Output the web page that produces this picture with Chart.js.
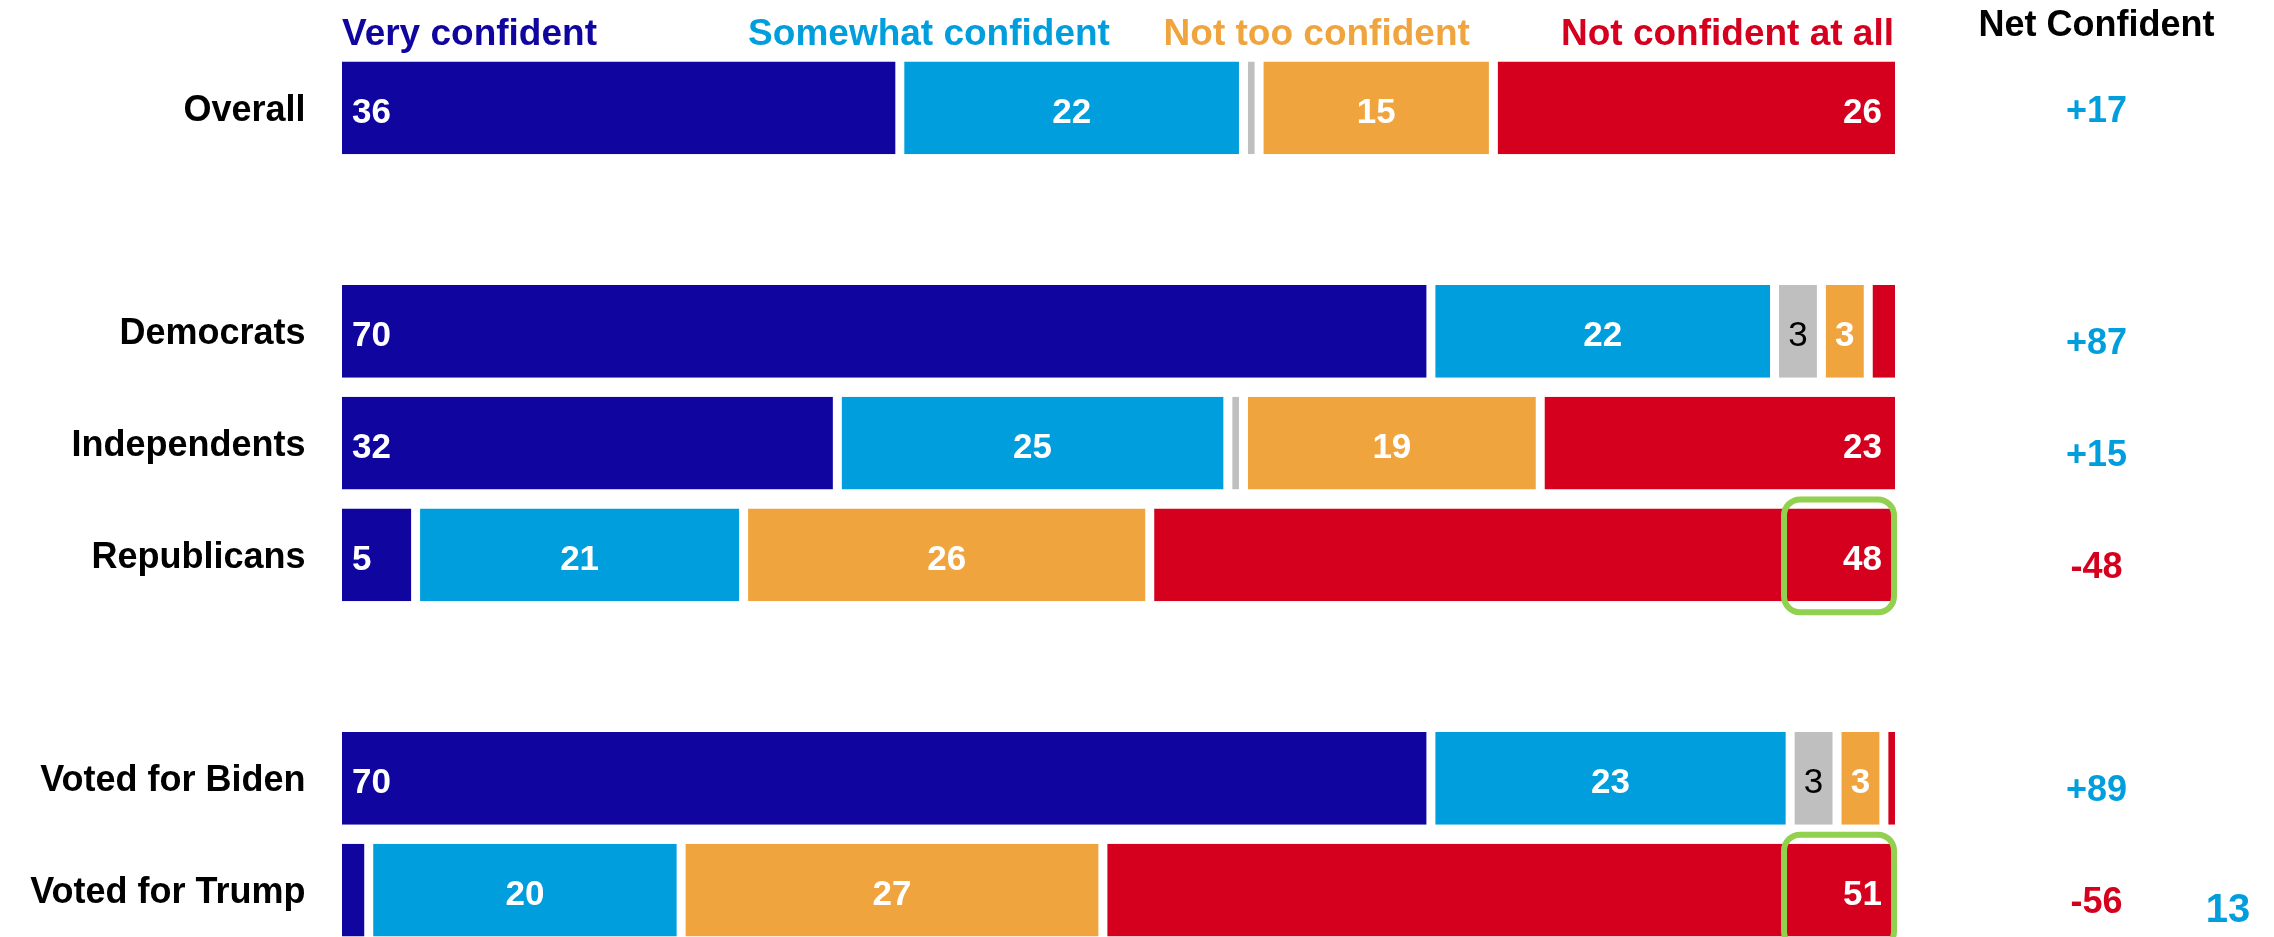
<!DOCTYPE html>
<html>
<head>
<meta charset="utf-8">
<title>Confidence by group</title>
<script src="https://cdn.jsdelivr.net/npm/chart.js@4.4.0/dist/chart.umd.min.js"></script>
<style>
  html, body { margin: 0; padding: 0; background: #fff; overflow: hidden; }
  #wrap { position: relative; width: 2274px; height: 946px; }
</style>
</head>
<body>
<div id="wrap"><canvas id="chart"></canvas></div>
<script>
// rows, blank strings are the spacer rows between groups
const categories = ['Overall', '', 'Democrats', 'Independents', 'Republicans', '', 'Voted for Biden', 'Voted for Trump'];

const veryConfident     = [36, null, 70, 32,  5, null, 70,  2];
const somewhatConfident = [22, null, 22, 25, 21, null, 23, 20];
const dontKnow          = [ 1, null,  3,  1,  0, null,  3,  0];
const notTooConfident   = [15, null,  3, 19, 26, null,  3, 27];
const notConfidentAtAll = [26, null,  2, 23, 48, null,  1, 51];

const netConfident = [17, null, 87, 15, -48, null, 89, -56];

const seriesNames = ['Very confident', 'Somewhat confident', "Don't know", 'Not too confident', 'Not confident at all'];
const highlighted = ['Republicans', 'Voted for Trump'];
const pageNumber = '13';

const colors = ['#10069F', '#009EDC', '#BFBFBF', '#F0A43D', '#D5001D'];
const FONT = "'Liberation Sans', Arial, Helvetica, sans-serif";
const GAP = 4.5;

// numbers inside the segments
const valueLabels = {
  id: 'valueLabels',
  afterDatasetsDraw(chart) {
    const ctx = chart.ctx;
    const last = chart.data.datasets.length - 1;
    ctx.save();
    ctx.textBaseline = 'alphabetic';
    chart.data.datasets.forEach((ds, di) => {
      chart.getDatasetMeta(di).data.forEach((bar, i) => {
        const v = ds.data[i];
        if (v == null || v < 3) return;
        const left = Math.min(bar.base, bar.x) + GAP;
        const right = Math.max(bar.base, bar.x) - GAP;
        let x = (left + right) / 2;
        ctx.textAlign = 'center';
        if (di === 0) { x = left + 10; ctx.textAlign = 'left'; }
        if (di === last) { x = right - 13; ctx.textAlign = 'right'; }
        if (di === 2) {
          ctx.font = '35px ' + FONT;
          ctx.fillStyle = '#000';
        } else {
          ctx.font = 'bold 35px ' + FONT;
          ctx.fillStyle = '#fff';
        }
        ctx.fillText(String(v), x, bar.y + 15);
      });
    });
    ctx.restore();
  }
};

// column headers, net column, green call-out boxes, page number
const extras = {
  id: 'extras',
  afterDraw(chart) {
    const ctx = chart.ctx;
    const xs = chart.scales.x;
    const area = chart.chartArea;
    ctx.save();

    // headers above the bars
    const heads = [
      { i: 0, at: 0, align: 'left' },
      { i: 1, at: 26, align: 'left' },
      { i: 3, at: 52.6, align: 'left' },
      { i: 4, at: 100, align: 'right' }
    ];
    ctx.font = 'bold 37px ' + FONT;
    ctx.textBaseline = 'alphabetic';
    heads.forEach(h => {
      ctx.fillStyle = colors[h.i];
      ctx.textAlign = h.align;
      const x = xs.getPixelForValue(h.at) + (h.align === 'left' ? GAP : -GAP - 1);
      ctx.fillText(seriesNames[h.i], x, 45);
    });

    const netX = area.right + 197;
    ctx.font = 'bold 36px ' + FONT;
    ctx.fillStyle = '#000';
    ctx.textAlign = 'center';
    ctx.fillText('Net Confident', netX, 36);

    const meta = chart.getDatasetMeta(0);
    netConfident.forEach((v, i) => {
      if (v == null) return;
      const bar = meta.data[i];
      ctx.fillStyle = v >= 0 ? colors[1] : colors[4];
      const dy = i === 0 ? 14 : 23;
      ctx.fillText((v > 0 ? '+' : '') + v, netX, bar.y + dy);
    });

    // green rounded boxes round the highlighted "not at all" values
    const redMeta = chart.getDatasetMeta(chart.data.datasets.length - 1);
    ctx.strokeStyle = '#92D050';
    ctx.lineWidth = 6;
    highlighted.forEach(name => {
      const i = categories.indexOf(name);
      const bar = redMeta.data[i];
      const r = Math.max(bar.base, bar.x) - GAP - 1;
      const l = r - 110;
      const t = bar.y - bar.height / 2 - 9;
      const b = bar.y + bar.height / 2 + 11;
      ctx.beginPath();
      ctx.roundRect(l, t, r - l, b - t, 16);
      ctx.stroke();
    });

    ctx.fillStyle = colors[1];
    ctx.font = 'bold 40px ' + FONT;
    ctx.textAlign = 'center';
    ctx.fillText(pageNumber, 2228, 922);
    ctx.restore();
  }
};

const seriesData = [veryConfident, somewhatConfident, dontKnow, notTooConfident, notConfidentAtAll];

new Chart(document.getElementById('chart'), {
  type: 'bar',
  data: {
    labels: categories,
    datasets: seriesData.map((d, k) => ({
      label: seriesNames[k],
      data: d,
      backgroundColor: colors[k],
      borderColor: '#ffffff',
      borderWidth: { left: GAP, right: GAP, top: 0, bottom: 0 },
      borderSkipped: false,
      barPercentage: 0.83,
      categoryPercentage: 1
    }))
  },
  options: {
    indexAxis: 'y',
    responsive: true,
    maintainAspectRatio: false,
    animation: false,
    devicePixelRatio: 1,
    layout: { padding: { left: 0, right: 374.5, top: 52, bottom: 0 } },
    plugins: {
      legend: { display: false },
      tooltip: { enabled: false }
    },
    scales: {
      x: { stacked: true, min: 0, max: 100, display: false },
      y: {
        stacked: true,
        grid: { display: false, drawTicks: false },
        border: { display: false },
        ticks: {
          padding: 32,
          labelOffset: 3,
          color: '#000',
          font: { family: FONT, size: 36, weight: 'bold' }
        },
        afterFit(scale) {
          scale.width = 337.5;
          scale.paddingTop = 0;
          scale.paddingBottom = 0;
        }
      }
    }
  },
  plugins: [valueLabels, extras]
});
</script>
</body>
</html>
